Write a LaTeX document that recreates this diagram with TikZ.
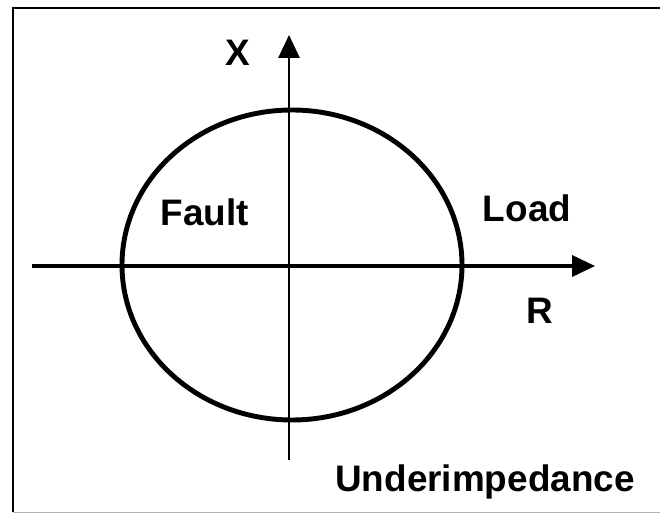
\documentclass[tikz,border=0pt]{standalone}
\usepackage{fontspec}
\setmainfont{Liberation Sans}
\usepackage{tikz}
\usetikzlibrary{arrows.meta,positioning}
\tikzset{
  axis/.style={-{Triangle[length=#1, width=12pt]}, draw=black},
  lbl/.style={font=\bfseries\fontsize{21}{24}\selectfont, text=black, inner sep=0pt},
  chara/.style={line width=2.8pt, draw=black}
}

\begin{document}
\begin{tikzpicture}[x=0.02cm, y=-0.02cm]
  \useasboundingbox (0,0) rectangle (660,513);
  % frame
  \draw[line width=1.6pt] (13,512) -- (13,8) -- (660,8);
  \draw[line width=0.4pt, black!30] (13,512) -- (660,512);
  % axes
  \coordinate (o) at (290,266);
  \coordinate (rl) at (32,266);
  \coordinate (rr) at (595,266);
  \coordinate (xb) at (289,460);
  \coordinate (xt) at (289,35);
  \draw[axis=13pt, line width=1.8pt] (rl) -- (rr);
  \draw[axis=13pt, line width=1.2pt] (xb) -- (xt);
  % underimpedance circle
  \draw[chara] (292,265) ellipse [x radius=170, y radius=155];
  % labels
  \node[lbl] (x) at (238,53) {X};
  \node[lbl] (r) at (540,311) {R};
  \node[lbl] (fault) at (205,212) {Fault};
  \node[lbl] (load) at (527,208) {Load};
  \node[lbl] (under) at (485,482) {Underimpedance};
\end{tikzpicture}
\end{document}
